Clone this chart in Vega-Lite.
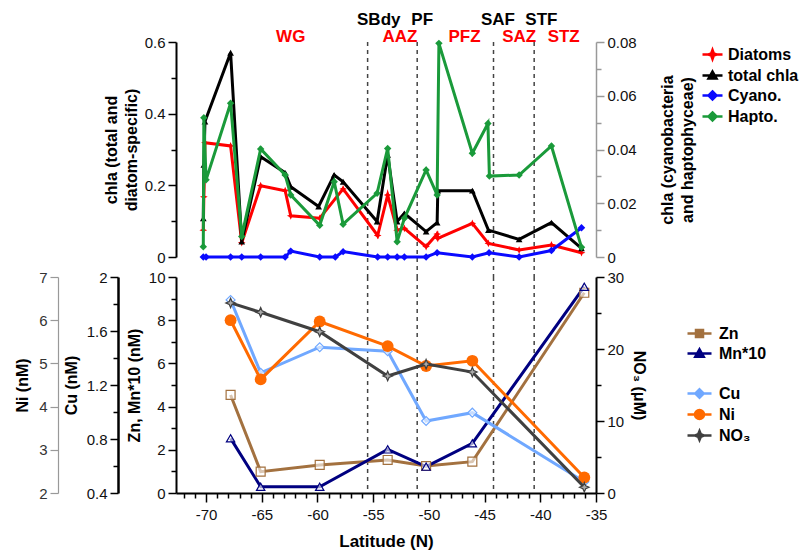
{
  "$schema": "https://vega.github.io/schema/vega-lite/v6.json",
  "padding": {"left": 14, "top": 11, "right": 5, "bottom": 3},
  "config": {"view": {"stroke": null}, "axis": {"grid": false, "tickCount": 100}, "font": "Liberation Sans"},
  "spacing": 20,
  "bounds": "flush",
  "datasets": {
    "fronts": [{"lat": -55.5}, {"lat": -51.05}, {"lat": -44.2}, {"lat": -40.55}],
    "labels": [
      {"name": "SBdy", "kind": "front", "lat": -54.5},
      {"name": "PF", "kind": "front", "lat": -50.6},
      {"name": "SAF", "kind": "front", "lat": -43.8},
      {"name": "STF", "kind": "front", "lat": -39.9},
      {"name": "WG", "kind": "zone", "lat": -62.4},
      {"name": "AAZ", "kind": "zone", "lat": -52.6},
      {"name": "PFZ", "kind": "zone", "lat": -46.8},
      {"name": "SAZ", "kind": "zone", "lat": -41.9},
      {"name": "STZ", "kind": "zone", "lat": -37.9}
    ],
    "chl": [
      {"series": "Diatoms", "lat": -70.25, "value": 0.075},
      {"series": "Diatoms", "lat": -70.2, "value": 0.168},
      {"series": "Diatoms", "lat": -70.1, "value": 0.319},
      {"series": "Diatoms", "lat": -67.8, "value": 0.31},
      {"series": "Diatoms", "lat": -66.8, "value": 0.04},
      {"series": "Diatoms", "lat": -65.1, "value": 0.199},
      {"series": "Diatoms", "lat": -62.9, "value": 0.185},
      {"series": "Diatoms", "lat": -62.4, "value": 0.115},
      {"series": "Diatoms", "lat": -59.8, "value": 0.108},
      {"series": "Diatoms", "lat": -57.7, "value": 0.19},
      {"series": "Diatoms", "lat": -54.6, "value": 0.06},
      {"series": "Diatoms", "lat": -53.7, "value": 0.173},
      {"series": "Diatoms", "lat": -52.85, "value": 0.075},
      {"series": "Diatoms", "lat": -52.2, "value": 0.08},
      {"series": "Diatoms", "lat": -50.25, "value": 0.029},
      {"series": "Diatoms", "lat": -49.26, "value": 0.064},
      {"series": "Diatoms", "lat": -49.2, "value": 0.052},
      {"series": "Diatoms", "lat": -46.1, "value": 0.094},
      {"series": "Diatoms", "lat": -44.66, "value": 0.038},
      {"series": "Diatoms", "lat": -41.9, "value": 0.0195},
      {"series": "Diatoms", "lat": -39.0, "value": 0.0335},
      {"series": "Diatoms", "lat": -36.3, "value": 0.012},
      {"series": "total chla", "lat": -70.25, "value": 0.108},
      {"series": "total chla", "lat": -70.2, "value": 0.257},
      {"series": "total chla", "lat": -70.1, "value": 0.378},
      {"series": "total chla", "lat": -67.8, "value": 0.57},
      {"series": "total chla", "lat": -66.8, "value": 0.043},
      {"series": "total chla", "lat": -65.1, "value": 0.28},
      {"series": "total chla", "lat": -62.9, "value": 0.235},
      {"series": "total chla", "lat": -62.4, "value": 0.196},
      {"series": "total chla", "lat": -59.9, "value": 0.141},
      {"series": "total chla", "lat": -58.5, "value": 0.229},
      {"series": "total chla", "lat": -57.7, "value": 0.21},
      {"series": "total chla", "lat": -54.65, "value": 0.099},
      {"series": "total chla", "lat": -53.7, "value": 0.285},
      {"series": "total chla", "lat": -52.85, "value": 0.099},
      {"series": "total chla", "lat": -52.2, "value": 0.122},
      {"series": "total chla", "lat": -50.25, "value": 0.071},
      {"series": "total chla", "lat": -49.26, "value": 0.096},
      {"series": "total chla", "lat": -49.2, "value": 0.185},
      {"series": "total chla", "lat": -46.1, "value": 0.185},
      {"series": "total chla", "lat": -44.66, "value": 0.075},
      {"series": "total chla", "lat": -41.9, "value": 0.049},
      {"series": "total chla", "lat": -39.0, "value": 0.096},
      {"series": "total chla", "lat": -36.3, "value": 0.024},
      {"series": "Cyano.", "lat": -70.25, "value": 0},
      {"series": "Cyano.", "lat": -70.0, "value": 0},
      {"series": "Cyano.", "lat": -67.8, "value": 0},
      {"series": "Cyano.", "lat": -66.8, "value": 0},
      {"series": "Cyano.", "lat": -65.1, "value": 0},
      {"series": "Cyano.", "lat": -62.9, "value": 0},
      {"series": "Cyano.", "lat": -62.4, "value": 0.0022},
      {"series": "Cyano.", "lat": -59.8, "value": 0},
      {"series": "Cyano.", "lat": -58.4, "value": 0},
      {"series": "Cyano.", "lat": -57.7, "value": 0.002},
      {"series": "Cyano.", "lat": -54.6, "value": 0},
      {"series": "Cyano.", "lat": -53.7, "value": 0},
      {"series": "Cyano.", "lat": -52.85, "value": 0},
      {"series": "Cyano.", "lat": -52.2, "value": 0},
      {"series": "Cyano.", "lat": -50.25, "value": 0},
      {"series": "Cyano.", "lat": -49.26, "value": 0.0016},
      {"series": "Cyano.", "lat": -46.1, "value": 0},
      {"series": "Cyano.", "lat": -44.6, "value": 0.0016},
      {"series": "Cyano.", "lat": -41.9, "value": 0},
      {"series": "Cyano.", "lat": -39.0, "value": 0.0024},
      {"series": "Cyano.", "lat": -36.3, "value": 0.0109},
      {"series": "Hapto.", "lat": -70.25, "value": 0.0038},
      {"series": "Hapto.", "lat": -70.2, "value": 0.0518},
      {"series": "Hapto.", "lat": -70.0, "value": 0.0287},
      {"series": "Hapto.", "lat": -67.8, "value": 0.0572},
      {"series": "Hapto.", "lat": -66.8, "value": 0.0076},
      {"series": "Hapto.", "lat": -65.1, "value": 0.0402},
      {"series": "Hapto.", "lat": -62.9, "value": 0.0305},
      {"series": "Hapto.", "lat": -62.4, "value": 0.0231},
      {"series": "Hapto.", "lat": -59.8, "value": 0.0118},
      {"series": "Hapto.", "lat": -58.5, "value": 0.028},
      {"series": "Hapto.", "lat": -57.7, "value": 0.0122},
      {"series": "Hapto.", "lat": -54.65, "value": 0.0237},
      {"series": "Hapto.", "lat": -53.7, "value": 0.0404},
      {"series": "Hapto.", "lat": -52.85, "value": 0.0057},
      {"series": "Hapto.", "lat": -52.2, "value": 0.0144},
      {"series": "Hapto.", "lat": -50.25, "value": 0.0324},
      {"series": "Hapto.", "lat": -49.26, "value": 0.0231},
      {"series": "Hapto.", "lat": -49.1, "value": 0.0795},
      {"series": "Hapto.", "lat": -46.1, "value": 0.0386},
      {"series": "Hapto.", "lat": -44.7, "value": 0.0497},
      {"series": "Hapto.", "lat": -44.57, "value": 0.0301},
      {"series": "Hapto.", "lat": -41.9, "value": 0.0305},
      {"series": "Hapto.", "lat": -39.0, "value": 0.0413},
      {"series": "Hapto.", "lat": -36.3, "value": 0.0036}
    ],
    "metals": [
      {"series": "Zn", "lat": -67.8, "value": 4.54},
      {"series": "Zn", "lat": -65.1, "value": 0.99},
      {"series": "Zn", "lat": -59.8, "value": 1.3},
      {"series": "Zn", "lat": -53.7, "value": 1.53},
      {"series": "Zn", "lat": -50.25, "value": 1.25},
      {"series": "Zn", "lat": -46.1, "value": 1.45},
      {"series": "Zn", "lat": -36.05, "value": 9.27},
      {"series": "Mn*10", "lat": -67.8, "value": 2.53},
      {"series": "Mn*10", "lat": -65.1, "value": 0.29},
      {"series": "Mn*10", "lat": -59.8, "value": 0.29},
      {"series": "Mn*10", "lat": -53.7, "value": 2.02},
      {"series": "Mn*10", "lat": -50.25, "value": 1.22},
      {"series": "Mn*10", "lat": -46.1, "value": 2.3},
      {"series": "Mn*10", "lat": -36.05, "value": 9.55},
      {"series": "Cu", "lat": -67.8, "value": 1.83},
      {"series": "Cu", "lat": -65.1, "value": 1.29},
      {"series": "Cu", "lat": -59.8, "value": 1.48},
      {"series": "Cu", "lat": -53.7, "value": 1.45},
      {"series": "Cu", "lat": -50.25, "value": 0.933},
      {"series": "Cu", "lat": -46.1, "value": 0.995},
      {"series": "Cu", "lat": -36.05, "value": 0.484},
      {"series": "Ni", "lat": -67.8, "value": 6.0},
      {"series": "Ni", "lat": -65.1, "value": 4.63},
      {"series": "Ni", "lat": -59.8, "value": 5.97},
      {"series": "Ni", "lat": -53.7, "value": 5.4},
      {"series": "Ni", "lat": -50.25, "value": 4.94},
      {"series": "Ni", "lat": -46.1, "value": 5.06},
      {"series": "Ni", "lat": -36.05, "value": 2.36},
      {"series": "NO₃", "lat": -67.8, "value": 26.4},
      {"series": "NO₃", "lat": -65.1, "value": 25.1},
      {"series": "NO₃", "lat": -59.8, "value": 22.4},
      {"series": "NO₃", "lat": -53.7, "value": 16.25},
      {"series": "NO₃", "lat": -50.25, "value": 17.9},
      {"series": "NO₃", "lat": -46.1, "value": 16.8},
      {"series": "NO₃", "lat": -36.05, "value": 0.79}
    ]
  },
  "vconcat": [
    {
      "width": 420,
      "height": 215,
      "resolve": {"scale": {"y": "independent"}},
      "layer": [
        {
          "layer": [
            {
              "data": {"name": "fronts"},
              "mark": {"type": "rule", "strokeDash": [4, 4], "color": "#444", "strokeWidth": 1.5},
              "encoding": {
                "x": {"field": "lat", "type": "quantitative", "scale": {"domain": [-72.7, -35], "nice": false, "zero": false}, "axis": null},
                "y": {"datum": 0.6, "type": "quantitative", "scale": {"domain": [0, 0.6], "nice": false, "zero": false}},
                "y2": {"datum": -0.056}
              }
            },
            {
              "data": {"name": "labels"},
              "transform": [{"filter": "datum.kind === 'front'"}],
              "mark": {"type": "text", "font": "Liberation Sans", "fontSize": 17, "fontWeight": "bold", "color": "black", "baseline": "middle", "align": "center"},
              "encoding": {
                "x": {"field": "lat", "type": "quantitative", "scale": {"domain": [-72.7, -35], "nice": false, "zero": false}, "axis": null},
                "y": {"datum": 0.661, "type": "quantitative", "scale": {"domain": [0, 0.6], "nice": false, "zero": false}},
                "text": {"field": "name"}
              }
            },
            {
              "data": {"name": "labels"},
              "transform": [{"filter": "datum.kind === 'zone'"}],
              "mark": {"type": "text", "font": "Liberation Sans", "fontSize": 17, "fontWeight": "bold", "color": "#ff0000", "baseline": "middle", "align": "center"},
              "encoding": {
                "x": {"field": "lat", "type": "quantitative", "scale": {"domain": [-72.7, -35], "nice": false, "zero": false}, "axis": null},
                "y": {"datum": 0.614, "type": "quantitative", "scale": {"domain": [0, 0.6], "nice": false, "zero": false}},
                "text": {"field": "name"}
              }
            },
            {
              "data": {"name": "chl"},
              "transform": [{"filter": "datum.series === 'Diatoms' || datum.series === 'total chla'"}],
              "mark": {"type": "line", "strokeWidth": 3},
              "encoding": {
                "x": {"field": "lat", "type": "quantitative", "scale": {"domain": [-72.7, -35], "nice": false, "zero": false}, "axis": null},
                "y": {
                  "field": "value", "type": "quantitative",
                  "scale": {"domain": [0, 0.6], "nice": false, "zero": false},
                  "axis": {
                    "orient": "left", "tickCount": 100,
                    "values": [0, 0.1, 0.2, 0.3, 0.4, 0.5, 0.6],
                    "format": ".1~f",
                    "labelExpr": "round(datum.value*10) % 2 === 0 ? datum.label : ''",
                    "tickSize": {"condition": {"test": "round(datum.value*10) % 2 === 0", "value": 8}, "value": 5},
                    "domainColor": "black", "domainWidth": 2, "tickColor": "black", "tickWidth": 1.5,
                    "labelFont": "Liberation Sans", "labelFontSize": 15, "labelColor": "#111", "labelPadding": 3,
                    "labelOverlap": false, "labelBound": false, "labelFlush": false,
                    "title": ["chla (total and", "diatom-specific)"],
                    "titleFont": "Liberation Sans", "titleFontSize": 16, "titleFontWeight": "bold", "titleColor": "black",
                    "titleLineHeight": 20, "titlePadding": 5
                  }
                },
                "color": {
                  "field": "series", "type": "nominal",
                  "scale": {"domain": ["Diatoms", "total chla", "Cyano.", "Hapto."], "range": ["#ff0000", "#000000", "#0a0aff", "#1a9a3a"]},
                  "legend": {
                    "orient": "none", "legendX": 525, "legendY": 1, "title": null,
                    "symbolSize": 400, "symbolStrokeWidth": 2.5, "rowPadding": 0,
                    "labelFont": "Liberation Sans", "labelFontSize": 16, "labelFontWeight": "bold", "labelColor": "black", "labelOffset": 4, "labelLimit": 200,
                    "encode": {
                      "symbols": {
                        "update": {
                          "shape": [
                            {"test": "datum.value === 'Diatoms'", "value": "M-1,0H1M0,-0.45L0.12,-0.12L0.45,0L0.12,0.12L0,0.45L-0.12,0.12L-0.45,0L-0.12,-0.12Z"},
                            {"test": "datum.value === 'total chla'", "value": "M-1,0H1M0,-0.4L0.4,0.3L-0.4,0.3Z"},
                            {"value": "M-1,0H1M0,-0.4L0.4,0L0,0.4L-0.4,0Z"}
                          ],
                          "fill": [
                            {"test": "datum.value === 'Diatoms'", "value": "#ff0000"},
                            {"test": "datum.value === 'total chla'", "value": "#000000"},
                            {"test": "datum.value === 'Cyano.'", "value": "#0a0aff"},
                            {"value": "#1a9a3a"}
                          ],
                          "stroke": [
                            {"test": "datum.value === 'Diatoms'", "value": "#ff0000"},
                            {"test": "datum.value === 'total chla'", "value": "#000000"},
                            {"test": "datum.value === 'Cyano.'", "value": "#0a0aff"},
                            {"value": "#1a9a3a"}
                          ],
                          "strokeWidth": {"value": 2.5},
                          "opacity": {"value": 1}
                        }
                      }
                    }
                  }
                }
              }
            },
            {
              "data": {"name": "chl"},
              "transform": [{"filter": "datum.series === 'Diatoms'"}],
              "mark": {"type": "point", "shape": "M0,-1L0.3,-0.3L1,0L0.3,0.3L0,1L-0.3,0.3L-1,0L-0.3,-0.3Z", "filled": true, "size": 60, "opacity": 1},
              "encoding": {
                "x": {"field": "lat", "type": "quantitative", "scale": {"domain": [-72.7, -35], "nice": false, "zero": false}, "axis": null},
                "y": {"field": "value", "type": "quantitative", "scale": {"domain": [0, 0.6], "nice": false, "zero": false}},
                "color": {"field": "series", "type": "nominal", "scale": {"domain": ["Diatoms", "total chla", "Cyano.", "Hapto."], "range": ["#ff0000", "#000000", "#0a0aff", "#1a9a3a"]}}
              }
            },
            {
              "data": {"name": "chl"},
              "transform": [{"filter": "datum.series === 'total chla'"}],
              "mark": {"type": "point", "shape": "triangle-up", "filled": true, "size": 45, "opacity": 1},
              "encoding": {
                "x": {"field": "lat", "type": "quantitative", "scale": {"domain": [-72.7, -35], "nice": false, "zero": false}, "axis": null},
                "y": {"field": "value", "type": "quantitative", "scale": {"domain": [0, 0.6], "nice": false, "zero": false}},
                "color": {"field": "series", "type": "nominal", "scale": {"domain": ["Diatoms", "total chla", "Cyano.", "Hapto."], "range": ["#ff0000", "#000000", "#0a0aff", "#1a9a3a"]}}
              }
            }
          ]
        },
        {
          "layer": [
            {
              "data": {"name": "chl"},
              "transform": [{"filter": "datum.series === 'Cyano.' || datum.series === 'Hapto.'"}],
              "mark": {"type": "line", "strokeWidth": 3},
              "encoding": {
                "x": {"field": "lat", "type": "quantitative", "scale": {"domain": [-72.7, -35], "nice": false, "zero": false}, "axis": null},
                "y": {
                  "field": "value", "type": "quantitative",
                  "scale": {"domain": [0, 0.08], "nice": false, "zero": false},
                  "axis": {
                    "orient": "right", "tickCount": 100,
                    "values": [0, 0.01, 0.02, 0.03, 0.04, 0.05, 0.06, 0.07, 0.08],
                    "format": ".2~f",
                    "labelExpr": "round(datum.value*100) % 2 === 0 ? datum.label : ''",
                    "tickSize": {"condition": {"test": "round(datum.value*100) % 2 === 0", "value": 8}, "value": 5},
                    "domainColor": "#999", "domainWidth": 1.5, "tickColor": "#999", "tickWidth": 1.5,
                    "labelFont": "Liberation Sans", "labelFontSize": 15, "labelColor": "#111", "labelPadding": 3,
                    "labelOverlap": false, "labelBound": false, "labelFlush": false,
                    "title": ["chla (cyanobacteria", "and haptophyceae)"],
                    "titleAngle": 270, "titleBaseline": "top",
                    "titleFont": "Liberation Sans", "titleFontSize": 16, "titleFontWeight": "bold", "titleColor": "black",
                    "titleLineHeight": 20, "titlePadding": 3
                  }
                },
                "color": {"field": "series", "type": "nominal", "scale": {"domain": ["Diatoms", "total chla", "Cyano.", "Hapto."], "range": ["#ff0000", "#000000", "#0a0aff", "#1a9a3a"]}}
              }
            },
            {
              "data": {"name": "chl"},
              "transform": [{"filter": "datum.series === 'Cyano.' || datum.series === 'Hapto.'"}],
              "mark": {"type": "point", "shape": "diamond", "filled": true, "size": 55, "opacity": 1},
              "encoding": {
                "x": {"field": "lat", "type": "quantitative", "scale": {"domain": [-72.7, -35], "nice": false, "zero": false}, "axis": null},
                "y": {"field": "value", "type": "quantitative", "scale": {"domain": [0, 0.08], "nice": false, "zero": false}},
                "color": {"field": "series", "type": "nominal", "scale": {"domain": ["Diatoms", "total chla", "Cyano.", "Hapto."], "range": ["#ff0000", "#000000", "#0a0aff", "#1a9a3a"]}}
              }
            }
          ]
        }
      ]
    },
    {
      "width": 420,
      "height": 216,
      "resolve": {"scale": {"y": "independent"}},
      "layer": [
        {
          "layer": [
            {
              "data": {"name": "fronts"},
              "mark": {"type": "rule", "strokeDash": [4, 4], "color": "#444", "strokeWidth": 1.5},
              "encoding": {
                "x": {"field": "lat", "type": "quantitative", "scale": {"domain": [-72.7, -35], "nice": false, "zero": false}}
              }
            },
            {
              "data": {"name": "metals"},
              "transform": [{"filter": "datum.series === 'Zn' || datum.series === 'Mn*10'"}],
              "mark": {"type": "line", "strokeWidth": 3},
              "encoding": {
                "x": {
                  "field": "lat", "type": "quantitative", "scale": {"domain": [-72.7, -35], "nice": false, "zero": false},
                  "axis": {
                    "tickCount": 100,
                    "values": [-72, -71, -70, -69, -68, -67, -66, -65, -64, -63, -62, -61, -60, -59, -58, -57, -56, -55, -54, -53, -52, -51, -50, -49, -48, -47, -46, -45, -44, -43, -42, -41, -40, -39, -38, -37, -36, -35],
                    "labelExpr": "datum.value % 5 === 0 ? '-' + abs(datum.value) : ''",
                    "tickSize": {"condition": {"test": "datum.value % 5 === 0", "value": 9}, "value": 5},
                    "domainColor": "black", "domainWidth": 2, "tickColor": "black", "tickWidth": 1.5,
                    "labelFont": "Liberation Sans", "labelFontSize": 15, "labelColor": "#111", "labelPadding": 5,
                    "labelOverlap": false, "labelBound": false, "labelFlush": false,
                    "title": "Latitude (N)",
                    "titleFont": "Liberation Sans", "titleFontSize": 17, "titleFontWeight": "bold", "titleColor": "black", "titlePadding": 11
                  }
                },
                "y": {
                  "field": "value", "type": "quantitative",
                  "scale": {"domain": [0, 10], "nice": false, "zero": false},
                  "axis": {
                    "orient": "left", "tickCount": 100,
                    "values": [0, 1, 2, 3, 4, 5, 6, 7, 8, 9, 10],
                    "format": "d",
                    "labelExpr": "datum.value % 2 === 0 ? datum.label : ''",
                    "tickSize": {"condition": {"test": "datum.value % 2 === 0", "value": 8}, "value": 5},
                    "domainColor": "black", "domainWidth": 2, "tickColor": "black", "tickWidth": 1.5,
                    "labelFont": "Liberation Sans", "labelFontSize": 15, "labelColor": "#111", "labelPadding": 3,
                    "labelOverlap": false, "labelBound": false, "labelFlush": false,
                    "title": "Zn, Mn*10 (nM)",
                    "titleFont": "Liberation Sans", "titleFontSize": 16, "titleFontWeight": "bold", "titleColor": "black", "titlePadding": 6
                  }
                },
                "color": {
                  "field": "series", "type": "nominal",
                  "scale": {"domain": ["Zn", "Mn*10", " ", "Cu", "Ni", "NO₃"], "range": ["#a3713f", "#000080", "rgba(0,0,0,0)", "#70a8ff", "#ff6a00", "#404040"]},
                  "legend": {
                    "orient": "none", "legendX": 512, "legendY": 45, "title": null,
                    "symbolSize": 400, "symbolStrokeWidth": 2.5, "rowPadding": 0,
                    "labelFont": "Liberation Sans", "labelFontSize": 16, "labelFontWeight": "bold", "labelColor": "black", "labelOffset": 8, "labelLimit": 200,
                    "encode": {
                      "symbols": {
                        "update": {
                          "shape": [
                            {"test": "datum.value === 'Zn'", "value": "M-1.2,0H1.2M-0.35,-0.35H0.35V0.35H-0.35Z"},
                            {"test": "datum.value === 'Mn*10'", "value": "M-1.2,0H1.2M0,-0.42L0.42,0.32L-0.42,0.32Z"},
                            {"test": "datum.value === 'Cu'", "value": "M-1.2,0H1.2M0,-0.42L0.42,0L0,0.42L-0.42,0Z"},
                            {"test": "datum.value === 'Ni'", "value": "M-1.2,0H1.2M-0.45,0A0.45,0.45 0 1,0 0.45,0A0.45,0.45 0 1,0 -0.45,0Z"},
                            {"test": "datum.value === 'NO₃'", "value": "M-1.2,0H1.2M0,-0.45L0.13,-0.13L0.45,0L0.13,0.13L0,0.45L-0.13,0.13L-0.45,0L-0.13,-0.13Z"},
                            {"value": "M0,0"}
                          ],
                          "fill": [
                            {"test": "datum.value === 'Ni'", "value": "#ff6a00"},
                            {"test": "datum.value === 'NO₃'", "value": "#aaaaaa"},
                            {"test": "datum.value === ' '", "value": "rgba(0,0,0,0)"},
                            {"value": "#ffffff"}
                          ],
                          "stroke": [
                            {"test": "datum.value === 'Zn'", "value": "#a3713f"},
                            {"test": "datum.value === 'Mn*10'", "value": "#000080"},
                            {"test": "datum.value === 'Cu'", "value": "#70a8ff"},
                            {"test": "datum.value === 'Ni'", "value": "#ff6a00"},
                            {"test": "datum.value === 'NO₃'", "value": "#404040"},
                            {"value": "rgba(0,0,0,0)"}
                          ],
                          "strokeWidth": {"value": 2.5},
                          "opacity": {"value": 1}
                        }
                      }
                    }
                  }
                }
              }
            },
            {
              "data": {"name": "metals"},
              "transform": [{"filter": "datum.series === 'Zn'"}],
              "mark": {"type": "point", "shape": "square", "filled": false, "fill": "#ffffff", "fillOpacity": 0.6, "strokeWidth": 1.2, "size": 80, "opacity": 1},
              "encoding": {
                "x": {"field": "lat", "type": "quantitative", "scale": {"domain": [-72.7, -35], "nice": false, "zero": false}},
                "y": {"field": "value", "type": "quantitative", "scale": {"domain": [0, 10], "nice": false, "zero": false}},
                "color": {"field": "series", "type": "nominal", "scale": {"domain": ["Zn", "Mn*10", " ", "Cu", "Ni", "NO₃"], "range": ["#a3713f", "#000080", "rgba(0,0,0,0)", "#70a8ff", "#ff6a00", "#404040"]}}
              }
            },
            {
              "data": {"name": "metals"},
              "transform": [{"filter": "datum.series === 'Mn*10'"}],
              "mark": {"type": "point", "shape": "triangle-up", "filled": false, "fill": "#ffffff", "fillOpacity": 0.6, "strokeWidth": 1.2, "size": 70, "opacity": 1},
              "encoding": {
                "x": {"field": "lat", "type": "quantitative", "scale": {"domain": [-72.7, -35], "nice": false, "zero": false}},
                "y": {"field": "value", "type": "quantitative", "scale": {"domain": [0, 10], "nice": false, "zero": false}},
                "color": {"field": "series", "type": "nominal", "scale": {"domain": ["Zn", "Mn*10", " ", "Cu", "Ni", "NO₃"], "range": ["#a3713f", "#000080", "rgba(0,0,0,0)", "#70a8ff", "#ff6a00", "#404040"]}}
              }
            }
          ]
        },
        {
          "layer": [
            {
              "data": {"name": "metals"},
              "transform": [{"filter": "datum.series === 'Cu'"}],
              "mark": {"type": "line", "strokeWidth": 3},
              "encoding": {
                "x": {"field": "lat", "type": "quantitative", "scale": {"domain": [-72.7, -35], "nice": false, "zero": false}},
                "y": {
                  "field": "value", "type": "quantitative",
                  "scale": {"domain": [0.4, 2], "nice": false, "zero": false},
                  "axis": {
                    "orient": "left", "offset": 58, "tickCount": 100,
                    "values": [0.4, 0.6, 0.8, 1.0, 1.2, 1.4, 1.6, 1.8, 2.0],
                    "format": ".1~f",
                    "labelExpr": "round(datum.value*10) % 4 === 0 ? datum.label : ''",
                    "tickSize": {"condition": {"test": "round(datum.value*10) % 4 === 0", "value": 8}, "value": 5},
                    "domainColor": "black", "domainWidth": 2.5, "tickColor": "black", "tickWidth": 1.5,
                    "labelFont": "Liberation Sans", "labelFontSize": 15, "labelColor": "#111", "labelPadding": 3,
                    "labelOverlap": false, "labelBound": false, "labelFlush": false,
                    "title": "Cu (nM)",
                    "titleFont": "Liberation Sans", "titleFontSize": 16, "titleFontWeight": "bold", "titleColor": "black", "titlePadding": 7
                  }
                },
                "color": {"field": "series", "type": "nominal", "scale": {"domain": ["Zn", "Mn*10", " ", "Cu", "Ni", "NO₃"], "range": ["#a3713f", "#000080", "rgba(0,0,0,0)", "#70a8ff", "#ff6a00", "#404040"]}}
              }
            },
            {
              "data": {"name": "metals"},
              "transform": [{"filter": "datum.series === 'Cu'"}],
              "mark": {"type": "point", "shape": "diamond", "filled": false, "fill": "#ffffff", "fillOpacity": 0.6, "strokeWidth": 1.2, "size": 80, "opacity": 1},
              "encoding": {
                "x": {"field": "lat", "type": "quantitative", "scale": {"domain": [-72.7, -35], "nice": false, "zero": false}},
                "y": {"field": "value", "type": "quantitative", "scale": {"domain": [0.4, 2], "nice": false, "zero": false}},
                "color": {"field": "series", "type": "nominal", "scale": {"domain": ["Zn", "Mn*10", " ", "Cu", "Ni", "NO₃"], "range": ["#a3713f", "#000080", "rgba(0,0,0,0)", "#70a8ff", "#ff6a00", "#404040"]}}
              }
            }
          ]
        },
        {
          "layer": [
            {
              "data": {"name": "metals"},
              "transform": [{"filter": "datum.series === 'Ni'"}],
              "mark": {"type": "line", "strokeWidth": 3},
              "encoding": {
                "x": {"field": "lat", "type": "quantitative", "scale": {"domain": [-72.7, -35], "nice": false, "zero": false}},
                "y": {
                  "field": "value", "type": "quantitative",
                  "scale": {"domain": [2, 7], "nice": false, "zero": false},
                  "axis": {
                    "orient": "left", "offset": 118, "tickCount": 100,
                    "values": [2, 2.5, 3, 3.5, 4, 4.5, 5, 5.5, 6, 6.5, 7],
                    "format": "d",
                    "labelExpr": "datum.value % 1 === 0 ? datum.label : ''",
                    "tickSize": {"condition": {"test": "datum.value % 1 === 0", "value": 8}, "value": 5},
                    "domainColor": "#999", "domainWidth": 1.2, "tickColor": "#999", "tickWidth": 1.2,
                    "labelFont": "Liberation Sans", "labelFontSize": 15, "labelColor": "#333", "labelPadding": 3,
                    "labelOverlap": false, "labelBound": false, "labelFlush": false,
                    "title": "Ni (nM)",
                    "titleFont": "Liberation Sans", "titleFontSize": 16, "titleFontWeight": "bold", "titleColor": "black", "titlePadding": 8
                  }
                },
                "color": {"field": "series", "type": "nominal", "scale": {"domain": ["Zn", "Mn*10", " ", "Cu", "Ni", "NO₃"], "range": ["#a3713f", "#000080", "rgba(0,0,0,0)", "#70a8ff", "#ff6a00", "#404040"]}}
              }
            },
            {
              "data": {"name": "metals"},
              "transform": [{"filter": "datum.series === 'Ni'"}],
              "mark": {"type": "point", "shape": "circle", "filled": true, "size": 140, "opacity": 1},
              "encoding": {
                "x": {"field": "lat", "type": "quantitative", "scale": {"domain": [-72.7, -35], "nice": false, "zero": false}},
                "y": {"field": "value", "type": "quantitative", "scale": {"domain": [2, 7], "nice": false, "zero": false}},
                "color": {"field": "series", "type": "nominal", "scale": {"domain": ["Zn", "Mn*10", " ", "Cu", "Ni", "NO₃"], "range": ["#a3713f", "#000080", "rgba(0,0,0,0)", "#70a8ff", "#ff6a00", "#404040"]}}
              }
            }
          ]
        },
        {
          "layer": [
            {
              "data": {"name": "metals"},
              "transform": [{"filter": "datum.series === 'NO₃'"}],
              "mark": {"type": "line", "strokeWidth": 3},
              "encoding": {
                "x": {"field": "lat", "type": "quantitative", "scale": {"domain": [-72.7, -35], "nice": false, "zero": false}},
                "y": {
                  "field": "value", "type": "quantitative",
                  "scale": {"domain": [0, 30], "nice": false, "zero": false},
                  "axis": {
                    "orient": "right", "tickCount": 100,
                    "values": [0, 5, 10, 15, 20, 25, 30],
                    "format": "d",
                    "labelExpr": "datum.value % 10 === 0 ? datum.label : ''",
                    "tickSize": {"condition": {"test": "datum.value % 10 === 0", "value": 8}, "value": 5},
                    "domainColor": "black", "domainWidth": 2, "tickColor": "black", "tickWidth": 1.5,
                    "labelFont": "Liberation Sans", "labelFontSize": 15, "labelColor": "#111", "labelPadding": 3,
                    "labelOverlap": false, "labelBound": false, "labelFlush": false,
                    "title": "NO₃ (μM)",
                    "titleFont": "Liberation Sans", "titleFontSize": 16, "titleFontWeight": "bold", "titleColor": "black", "titlePadding": 7
                  }
                },
                "color": {"field": "series", "type": "nominal", "scale": {"domain": ["Zn", "Mn*10", " ", "Cu", "Ni", "NO₃"], "range": ["#a3713f", "#000080", "rgba(0,0,0,0)", "#70a8ff", "#ff6a00", "#404040"]}}
              }
            },
            {
              "data": {"name": "metals"},
              "transform": [{"filter": "datum.series === 'NO₃'"}],
              "mark": {"type": "point", "shape": "M0,-1L0.3,-0.3L1,0L0.3,0.3L0,1L-0.3,0.3L-1,0L-0.3,-0.3Z", "filled": false, "fill": "#aaaaaa", "strokeWidth": 1.2, "size": 90, "opacity": 1},
              "encoding": {
                "x": {"field": "lat", "type": "quantitative", "scale": {"domain": [-72.7, -35], "nice": false, "zero": false}},
                "y": {"field": "value", "type": "quantitative", "scale": {"domain": [0, 30], "nice": false, "zero": false}},
                "color": {"field": "series", "type": "nominal", "scale": {"domain": ["Zn", "Mn*10", " ", "Cu", "Ni", "NO₃"], "range": ["#a3713f", "#000080", "rgba(0,0,0,0)", "#70a8ff", "#ff6a00", "#404040"]}}
              }
            }
          ]
        }
      ]
    }
  ],
  "resolve": {"scale": {"color": "independent"}, "legend": {"color": "independent"}}
}
